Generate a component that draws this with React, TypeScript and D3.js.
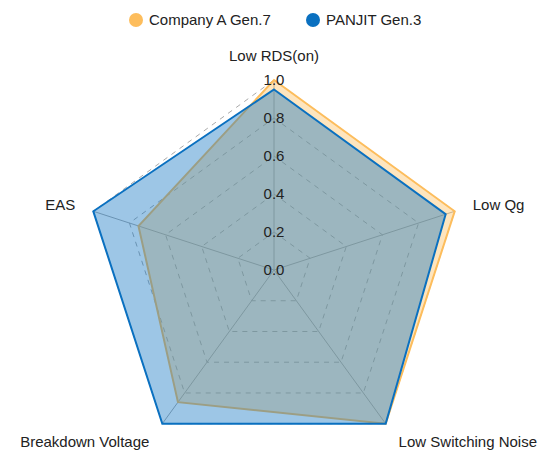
import * as d3 from "d3";

const indicators = ["Low RDS(on)", "Low Qg", "Low Switching Noise", "Breakdown Voltage", "EAS"];
const seriesNames = ["Company A Gen.7", "PANJIT Gen.3"];
const companyA = [1.0, 1.0, 1.0, 0.86, 0.75];
const panjit = [0.95, 0.95, 1.0, 1.0, 1.0];
const ticks = [0, 0.2, 0.4, 0.6, 0.8, 1.0];
const colors = ["#fdbd5c", "#0a70c0"];

const width = 554;
const height = 450;
const cx = 274;
const cy = 270;
const R = 190;
const FONT = "Liberation Sans, Arial, sans-serif";

function App() {
  const r = d3.scaleLinear([0, 1], [0, R]);
  const angle = (i: number) => (i * 2 * Math.PI) / indicators.length;
  const pt = (i: number, v: number): [number, number] => [
    Math.sin(angle(i)) * r(v),
    -Math.cos(angle(i)) * r(v),
  ];
  const radial = d3
    .lineRadial<number>()
    .angle((_, i) => angle(i))
    .radius((d) => r(d))
    .curve(d3.curveLinearClosed);

  const series = [companyA, panjit];

  return (
    <svg width={width} height={height} style={{ position: "absolute", left: 0, top: 0, background: "white" }} fontFamily={FONT}>
      {/* legend */}
      <g fontSize={15} fill="#222">
        <circle cx={136} cy={20} r={7} fill={colors[0]} />
        <text x={149} y={25}>{seriesNames[0]}</text>
        <circle cx={313} cy={20} r={7} fill={colors[1]} />
        <text x={326} y={25}>{seriesNames[1]}</text>
      </g>

      <g transform={`translate(${cx},${cy})`}>
        {/* split rings */}
        {ticks.slice(1).map((t) => (
          <path
            key={t}
            d={radial(indicators.map(() => t)) ?? ""}
            fill="none"
            stroke="#aaa"
            strokeDasharray="5,5"
            strokeWidth={1}
          />
        ))}
        {/* axis lines */}
        {indicators.map((_, i) => {
          const [x, y] = pt(i, 1);
          return <line key={i} x1={0} y1={0} x2={x} y2={y} stroke="#aaa" strokeWidth={1} />;
        })}

        {/* series */}
        {series.map((s, k) => (
          <path
            key={k}
            d={radial(s) ?? ""}
            fill={colors[k]}
            fillOpacity={0.4}
            stroke={colors[k]}
            strokeWidth={2}
            strokeLinejoin="miter"
          />
        ))}

        {/* axis tick labels */}
        {ticks.map((t) => (
          <text
            key={t}
            x={0}
            y={-r(t)}
            dy="0.35em"
            textAnchor="middle"
            fontSize={15}
            fill="#222"
          >
            {t.toFixed(1)}
          </text>
        ))}

        {/* indicator names */}
        {indicators.map((name, i) => {
          const s = Math.sin(angle(i));
          const c = -Math.cos(angle(i));
          const gap = c > 0.5 ? 22 : 19;
          const [x, y] = pt(i, 1 + gap / R);
          const anchor = Math.abs(s) < 1e-3 ? "middle" : s > 0 ? "start" : "end";
          const ty = c < -0.5 ? -r(1) - 15 - 4 : c > 0.5 ? 177 : y + 5;
          return (
            <text key={name} x={x} y={ty} textAnchor={anchor} fontSize={15} fill="#222">
              {name}
            </text>
          );
        })}
      </g>
    </svg>
  );
}

export default App;
